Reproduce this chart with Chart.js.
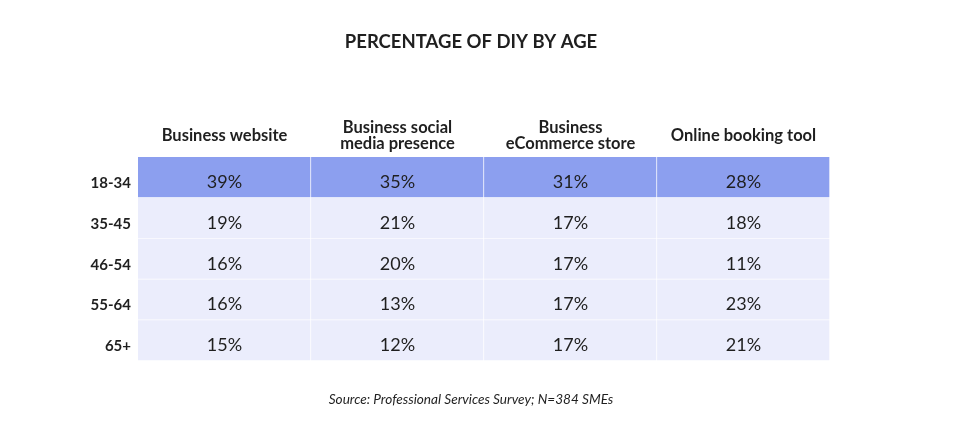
<!DOCTYPE html>
<html>
<head>
<meta charset="utf-8">
<script src="https://cdn.jsdelivr.net/npm/chart.js@4"></script>
<style>
  html, body { margin: 0; padding: 0; background: #fff; }
  #wrap { width: 960px; height: 444px; }
</style>
</head>
<body>
<div id="wrap"><canvas id="diyTable" width="960" height="444"></canvas></div>
<script>
// --- Data ---
const ageGroups = ['18-34', '35-45', '46-54', '55-64', '65+'];
const toolHeaders = [
    ['Business website'],
    ['Business social', 'media presence'],
    ['Business', 'eCommerce store'],
    ['Online booking tool']
];
const websiteDIY = [39, 19, 16, 16, 15];
const socialDIY = [35, 21, 20, 13, 12];
const ecommerceDIY = [31, 17, 17, 17, 17];
const bookingDIY = [28, 18, 11, 23, 21];
const columnValues = [websiteDIY, socialDIY, ecommerceDIY, bookingDIY];

const titleText = 'PERCENTAGE OF DIY BY AGE';
const sourceText = 'Source: Professional Services Survey; N=384 SMEs';

// --- Styling ---
const FONT = 'Lato, "Noto Sans", sans-serif';
const TEXT = '#1f1f1f';
const HIGHLIGHT = '#8c9fef';
const LIGHT = '#ebedfc';

// each cell is one unit-wide segment of a stacked horizontal bar
const datasets = columnValues.map((vals, j) => ({
    label: toolHeaders[j].join(' '),
    data: ageGroups.map(() => 1),
    values: vals,
    backgroundColor: ageGroups.map((_, i) => i === 0 ? HIGHLIGHT : LIGHT),
    borderColor: '#ffffff',
    borderWidth: { top: 0, left: 0, right: 1, bottom: 1 },
    borderSkipped: false,
    categoryPercentage: 1,
    barPercentage: 1
}));

// Draw text for cells, headers, row labels, title and source
const tableText = {
    id: 'tableText',
    afterDatasetsDraw(chart) {
        const ctx = chart.ctx;
        const xs = chart.scales.x;
        const ys = chart.scales.y;
        const area = chart.chartArea;
        ctx.save();
        ctx.fillStyle = TEXT;

        // values
        ctx.font = '18px ' + FONT;
        ctx.textAlign = 'center';
        ctx.textBaseline = 'alphabetic';
        chart.data.datasets.forEach((ds, j) => {
            chart.getDatasetMeta(j).data.forEach((bar, i) => {
                const cx = (bar.x + bar.base) / 2;
                ctx.fillText(ds.values[i] + '%', cx, bar.y + 10.5);
            });
        });

        // row labels
        ctx.font = 'bold 15px ' + FONT;
        ctx.textAlign = 'right';
        ageGroups.forEach((age, i) => {
            ctx.fillText(age, area.left - 7, ys.getPixelForValue(i) + 10.5);
        });

        // column headers
        ctx.font = 'bold 16.5px ' + FONT;
        ctx.textAlign = 'center';
        toolHeaders.forEach((lines, j) => {
            const cx = xs.getPixelForValue(j + 0.5);
            const lh = 16.5;
            const base = 141 - (lines.length - 1) * lh / 2;
            lines.forEach((ln, k) => ctx.fillText(ln, cx, base + k * lh));
        });

        // title
        ctx.font = 'bold 18.5px ' + FONT;
        ctx.fillText(titleText, 471, 48);

        // source
        ctx.font = 'italic 13.6px ' + FONT;
        ctx.fillText(sourceText, 471, 404);

        ctx.restore();
    }
};

new Chart(document.getElementById('diyTable'), {
    type: 'bar',
    data: { labels: ageGroups, datasets: datasets },
    options: {
        indexAxis: 'y',
        responsive: false,
        animation: false,
        events: [],
        layout: { padding: { left: 138, right: 130, top: 157, bottom: 83 } },
        scales: {
            x: { type: 'linear', min: 0, max: 4, stacked: true, display: false },
            y: { type: 'category', stacked: true, display: false, offset: true }
        },
        plugins: {
            legend: { display: false },
            title: { display: false },
            tooltip: { enabled: false }
        }
    },
    plugins: [tableText]
});
</script>
</body>
</html>
